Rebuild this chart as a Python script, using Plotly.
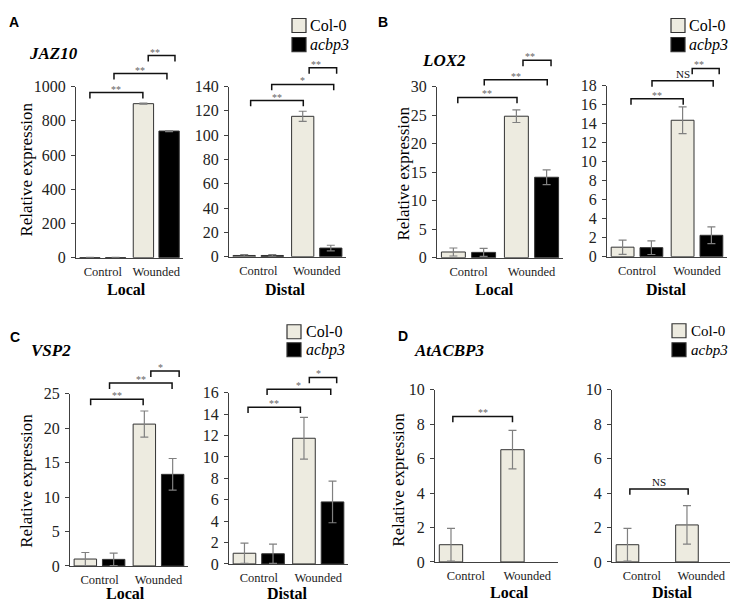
import plotly.graph_objects as go

W, H = 738, 602

# ---------------- data ----------------
categories = ["Control", "Wounded"]

jaz10_local_col0 = [1.0, 900.0]
jaz10_local_col0_err = [0.5, 3.0]
jaz10_local_acbp3 = [1.0, 740.0]
jaz10_local_acbp3_err = [0.5, 3.0]

jaz10_distal_col0 = [1.0, 115.5]
jaz10_distal_col0_err = [0.8, 4.2]
jaz10_distal_acbp3 = [1.0, 7.1]
jaz10_distal_acbp3_err = [0.8, 2.3]

lox2_local_col0 = [1.0, 24.8]
lox2_local_col0_err = [0.7, 1.1]
lox2_local_acbp3 = [0.93, 14.1]
lox2_local_acbp3_err = [0.7, 1.3]

lox2_distal_col0 = [1.0, 14.35]
lox2_distal_col0_err = [0.75, 1.4]
lox2_distal_acbp3 = [0.95, 2.25]
lox2_distal_acbp3_err = [0.72, 0.88]

vsp2_local_col0 = [1.0, 20.6]
vsp2_local_col0_err = [0.95, 1.9]
vsp2_local_acbp3 = [0.95, 13.3]
vsp2_local_acbp3_err = [0.9, 2.3]

vsp2_distal_col0 = [1.0, 11.75]
vsp2_distal_col0_err = [0.95, 1.95]
vsp2_distal_acbp3 = [0.95, 5.8]
vsp2_distal_acbp3_err = [0.9, 1.95]

atacbp3_local_col0 = [1.0, 6.52]
atacbp3_local_col0_err = [0.95, 1.12]

atacbp3_distal_col0 = [1.0, 2.15]
atacbp3_distal_col0_err = [0.95, 1.12]

# significance brackets: (x_left, x_right, y_top, label) in category-index / data units
jaz10_local_sig = [(-0.24, 0.75, 965, "**"), (0.21, 1.20, 1076, "**"), (0.85, 1.35, 1181, "**")]
jaz10_distal_sig = [(-0.13, 0.77, 128.5, "**"), (0.23, 1.29, 141.7, "*"), (0.87, 1.34, 155.4, "**")]
lox2_local_sig = [(-0.17, 0.77, 28.1, "**"), (0.25, 1.25, 31.2, "**"), (0.865, 1.31, 34.6, "**")]
lox2_distal_sig = [(-0.10, 0.77, 16.6, "**"), (0.25, 1.27, 18.5, "NS"), (0.92, 1.37, 19.8, "**")]
vsp2_local_sig = [(-0.15, 0.74, 24.2, "**"), (0.17, 1.23, 26.55, "**"), (0.87, 1.35, 28.3, "*")]
vsp2_distal_sig = [(-0.18, 0.70, 14.66, "**"), (0.14, 1.21, 16.34, "*"), (0.85, 1.31, 17.43, "*")]
atacbp3_local_sig = [(-0.21, 0.76, 8.45, "**")]
atacbp3_distal_sig = [(-0.20, 0.78, 4.24, "NS")]

# ---------------- styles ----------------
COL0 = "#EDEBE0"
ACBP = "#000000"
EDGE = "#333333"
AXC = "#404040"
ERRC = "#808080"
SERIF = "Liberation Serif"
SANS = "Liberation Sans"

# mapping from the target picture's pixels to figure pixels (page offset / capture scaling)
OFF_X, OFF_Y, SCALE_Y = 8.0, 16.5, 0.971


def fx(xt):
    return xt - OFF_X


def fy(yt):
    return (yt - OFF_Y) / SCALE_Y


def px(xt):
    return fx(xt) / W


def py(yt):
    return 1 - fy(yt) / H


# panel boxes in target pixels (x_left, x_right, y_top, y_bottom)
panels = [
    dict(col0=jaz10_local_col0, col0_err=jaz10_local_col0_err, acbp=jaz10_local_acbp3,
         acbp_err=jaz10_local_acbp3_err, ymax=1000, dtick=200, box=(76, 183, 87, 258),
         sig=jaz10_local_sig),
    dict(col0=jaz10_distal_col0, col0_err=jaz10_distal_col0_err, acbp=jaz10_distal_acbp3,
         acbp_err=jaz10_distal_acbp3_err, ymax=140, dtick=20, box=(229, 346, 87, 257),
         sig=jaz10_distal_sig),
    dict(col0=lox2_local_col0, col0_err=lox2_local_col0_err, acbp=lox2_local_acbp3,
         acbp_err=lox2_local_acbp3_err, ymax=30, dtick=5, box=(437, 563, 87, 258),
         sig=lox2_local_sig),
    dict(col0=lox2_distal_col0, col0_err=lox2_distal_col0_err, acbp=lox2_distal_acbp3,
         acbp_err=lox2_distal_acbp3_err, ymax=18, dtick=2, box=(607, 727, 86, 257),
         sig=lox2_distal_sig),
    dict(col0=vsp2_local_col0, col0_err=vsp2_local_col0_err, acbp=vsp2_local_acbp3,
         acbp_err=vsp2_local_acbp3_err, ymax=25, dtick=5, box=(70, 188, 394, 566),
         sig=vsp2_local_sig),
    dict(col0=vsp2_distal_col0, col0_err=vsp2_distal_col0_err, acbp=vsp2_distal_acbp3,
         acbp_err=vsp2_distal_acbp3_err, ymax=16, dtick=2, box=(229, 348, 393, 564),
         sig=vsp2_distal_sig),
    dict(col0=atacbp3_local_col0, col0_err=atacbp3_local_col0_err, acbp=None,
         acbp_err=None, ymax=10, dtick=2, box=(435, 558, 390, 562),
         sig=atacbp3_local_sig),
    dict(col0=atacbp3_distal_col0, col0_err=atacbp3_distal_col0_err, acbp=None,
         acbp_err=None, ymax=10, dtick=2, box=(612, 731, 390, 562),
         sig=atacbp3_distal_sig),
]

fig = go.Figure()
layout = {}
shapes = []
annotations = []

BAR_W = 0.38
DROP_PX = 6

for i, p in enumerate(panels, start=1):
    x0, x1, yt, yb = p["box"]
    xs = "" if i == 1 else str(i)
    fig.add_trace(go.Bar(
        x=categories, y=p["col0"], width=BAR_W, offset=-0.43,
        marker=dict(color=COL0, line=dict(color=EDGE, width=1)),
        error_y=dict(type="data", array=p["col0_err"], color=ERRC, thickness=1.2, width=4),
        xaxis="x" + xs, yaxis="y" + xs, showlegend=False, name="Col-0"))
    if p["acbp"] is not None:
        fig.add_trace(go.Bar(
            x=categories, y=p["acbp"], width=BAR_W, offset=0.05,
            marker=dict(color=ACBP, line=dict(color=EDGE, width=1)),
            error_y=dict(type="data", array=p["acbp_err"], color=ERRC, thickness=1.2, width=4),
            xaxis="x" + xs, yaxis="y" + xs, showlegend=False, name="acbp3"))
    layout["xaxis" + xs] = dict(
        domain=[px(x0), px(x1)], range=[-0.5, 1.5], anchor="y" + xs,
        showline=True, linecolor=AXC, linewidth=1, ticks="", showgrid=False,
        zeroline=False, tickfont=dict(family=SERIF, size=12.5, color="#222"),
        ticklabelstandoff=2)
    layout["yaxis" + xs] = dict(
        domain=[py(yb), py(yt)], range=[0, p["ymax"]], anchor="x" + xs,
        showline=True, linecolor=AXC, linewidth=1, ticks="outside", ticklen=4,
        tickcolor=AXC, tickwidth=1, dtick=p["dtick"], tick0=0, showgrid=False,
        zeroline=False, tickfont=dict(family=SERIF, size=16, color="#222"),
        ticklabelstandoff=2)
    hpx = fy(yb) - fy(yt)
    drop = DROP_PX / hpx
    for (xl, xr, ytop, lab) in p["sig"]:
        xdl = (xl + 0.5) / 2.0
        xdr = (xr + 0.5) / 2.0
        yd = ytop / p["ymax"]
        shapes.append(dict(
            type="path", xref="x" + xs + " domain", yref="y" + xs + " domain",
            path=f"M {xdl},{yd - drop} L {xdl},{yd} L {xdr},{yd} L {xdr},{yd - drop}",
            line=dict(color="#111", width=1.5)))
        if lab == "NS":
            annotations.append(dict(
                xref="x" + xs + " domain", yref="y" + xs + " domain",
                x=(xdl + xdr) / 2, y=yd, text="NS", showarrow=False,
                yanchor="bottom", yshift=-1,
                font=dict(family=SERIF, size=11, color="#111")))
        else:
            annotations.append(dict(
                xref="x" + xs + " domain", yref="y" + xs + " domain",
                x=(xdl + xdr) / 2, y=yd, text=lab, showarrow=False,
                yanchor="bottom", yshift=-4,
                font=dict(family=SERIF, size=10, color="#666")))

# panel letters
for letter, (lx, ly) in zip(["A", "B", "C", "D"], [(14, 22), (383, 22), (15, 337), (403, 336)]):
    annotations.append(dict(xref="paper", yref="paper", x=px(lx), y=py(ly), text=f"<b>{letter}</b>",
                            showarrow=False, xanchor="center", yanchor="middle",
                            font=dict(family=SANS, size=14, color="#000")))

# gene titles
for title, (tx, ty) in zip(["JAZ10", "LOX2", "VSP2", "AtACBP3"],
                           [(27, 54), (420, 61), (29, 351), (412, 351)]):
    annotations.append(dict(xref="paper", yref="paper", x=px(tx), y=py(ty),
                            text=f"<b><i>{title}</i></b>", showarrow=False,
                            xanchor="left", yanchor="middle",
                            font=dict(family=SERIF, size=17, color="#000")))

# y axis titles
for (ax_, ay_) in [(27, 170), (404, 174), (27, 481), (399, 480)]:
    annotations.append(dict(xref="paper", yref="paper", x=px(ax_), y=py(ay_),
                            text="Relative expression", textangle=-90, showarrow=False,
                            xanchor="center", yanchor="middle",
                            font=dict(family=SERIF, size=17, color="#000")))

# Local / Distal labels
for lab, (lx, ly) in zip(["Local", "Distal", "Local", "Distal", "Local", "Distal", "Local", "Distal"],
                         [(127, 290), (285, 290), (494, 290), (666, 290),
                          (125, 594), (287, 594), (509, 593), (672, 593)]):
    annotations.append(dict(xref="paper", yref="paper", x=px(lx), y=py(ly),
                            text=f"<b>{lab}</b>", showarrow=False,
                            xanchor="center", yanchor="middle",
                            font=dict(family=SERIF, size=16, color="#000")))

# custom legends: (box_left, col0_box_top, acbp_box_top, text_left, font size) in target pixels
for (bx, cy, ay, tx, fs) in [(292, 19, 38, 308, 16), (671, 19, 38, 687, 16),
                             (287, 325, 343, 304, 16), (672, 324, 343, 689, 15)]:
    s = 14
    shapes.append(dict(type="rect", xref="paper", yref="paper",
                       x0=px(bx), x1=px(bx + s), y0=py(cy + s), y1=py(cy),
                       fillcolor=COL0, line=dict(color=EDGE, width=1.2)))
    shapes.append(dict(type="rect", xref="paper", yref="paper",
                       x0=px(bx), x1=px(bx + s), y0=py(ay + s), y1=py(ay),
                       fillcolor=ACBP, line=dict(color=EDGE, width=1.2)))
    annotations.append(dict(xref="paper", yref="paper", x=px(tx), y=py(cy + s / 2),
                            text="Col-0", showarrow=False, xanchor="left", yanchor="middle",
                            font=dict(family=SERIF, size=fs, color="#000")))
    annotations.append(dict(xref="paper", yref="paper", x=px(tx), y=py(ay + s / 2),
                            text="<i>acbp3</i>", showarrow=False, xanchor="left", yanchor="middle",
                            font=dict(family=SERIF, size=fs, color="#000")))

fig.update_layout(
    width=W, height=H, margin=dict(l=0, r=0, t=0, b=0),
    paper_bgcolor="white", plot_bgcolor="white",
    barmode="group", showlegend=False,
    font=dict(family=SERIF, color="#000"),
    shapes=shapes, annotations=annotations, **layout)

fig.write_html("out.html")
